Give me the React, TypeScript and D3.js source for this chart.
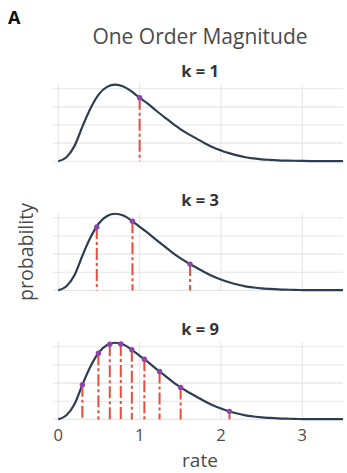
import { useRef, useEffect } from "react";
import * as d3 from "d3";

// density curve
const curveX = [0, 0.1, 0.2, 0.3, 0.4, 0.5, 0.6, 0.7, 0.8, 0.9, 1.0, 1.1, 1.2, 1.3, 1.4, 1.5, 1.6, 1.7, 1.8, 1.9, 2.0, 2.1, 2.2, 2.3, 2.4, 2.5, 2.6, 2.7, 2.8, 2.9, 3.0, 3.1, 3.2, 3.3, 3.4, 3.5];
const curveY = [0, 0.045, 0.17, 0.39, 0.59, 0.74, 0.82, 0.845, 0.825, 0.77, 0.70, 0.635, 0.56, 0.49, 0.42, 0.355, 0.30, 0.25, 0.20, 0.155, 0.12, 0.09, 0.065, 0.045, 0.032, 0.022, 0.016, 0.011, 0.008, 0.006, 0.004, 0.003, 0.003, 0.002, 0.002, 0.002];

// discretisation points per panel
const panelK = [1, 3, 9];
const pointsK1 = [1.0];
const pointsK3 = [0.473, 0.912, 1.62];
const pointsK9 = [0.296, 0.493, 0.633, 0.768, 0.904, 1.058, 1.245, 1.504, 2.104];
const panelPoints = [pointsK1, pointsK3, pointsK9];

const xTicks = [0, 1, 2, 3];
const yTicks = [0, 0.2, 0.4, 0.6, 0.8];

const FONT = "'Open Sans', 'Noto Sans', sans-serif";
const W = 347;
const H = 473;

export default function App() {
  const svgRef = useRef<SVGSVGElement>(null);

  useEffect(() => {
    if (!svgRef.current) return;
    const svg = d3.select(svgRef.current);
    svg.selectAll("*").remove();

    const left = 53;
    const right = 343;
    const x = d3.scaleLinear().domain([-0.065, 3.5]).range([left, right]);
    const lookup = d3.scaleLinear().domain(curveX).range(curveY);

    const panelBottoms = [161.3, 290.4, 419.4];
    const panelH = 77.3;

    // panel label + title
    svg.append("text")
      .attr("x", 8).attr("y", 23.5)
      .attr("font-family", FONT).attr("font-weight", 700).attr("font-size", 18)
      .attr("fill", "#111")
      .text("A");

    svg.append("text")
      .attr("x", 200).attr("y", 44)
      .attr("text-anchor", "middle")
      .attr("font-family", FONT).attr("font-size", 21)
      .attr("fill", "#4a4a4a")
      .text("One Order Magnitude");

    panelK.forEach((k, i) => {
      const bottom = panelBottoms[i];
      const y = d3.scaleLinear().domain([0, 0.852]).range([bottom, bottom - panelH]);
      const g = svg.append("g");

      // strip title
      g.append("text")
        .attr("x", 200).attr("y", bottom - panelH - 7)
        .attr("text-anchor", "middle")
        .attr("font-family", FONT).attr("font-weight", 700).attr("font-size", 16.5)
        .attr("fill", "#333")
        .text(`k = ${k}`);

      // grid
      g.selectAll("line.h")
        .data(yTicks)
        .join("line")
        .attr("class", "h")
        .attr("x1", left).attr("x2", right)
        .attr("y1", (d) => y(d)).attr("y2", (d) => y(d))
        .attr("stroke", "#e6e6e6").attr("stroke-width", 1.1);

      g.selectAll("line.v")
        .data(xTicks)
        .join("line")
        .attr("class", "v")
        .attr("x1", (d) => x(d)).attr("x2", (d) => x(d))
        .attr("y1", bottom - panelH).attr("y2", bottom)
        .attr("stroke", "#e6e6e6").attr("stroke-width", 1.1);

      // density line
      const line = d3.line<number>()
        .x((d) => x(d))
        .y((_, j) => y(curveY[j]))
        .curve(d3.curveMonotoneX);

      g.append("path")
        .datum(curveX)
        .attr("d", line)
        .attr("fill", "none")
        .attr("stroke", "#2c3e50")
        .attr("stroke-width", 2.2);

      const pts = panelPoints[i];

      g.selectAll("line.drop")
        .data(pts)
        .join("line")
        .attr("class", "drop")
        .attr("x1", (d) => x(d)).attr("x2", (d) => x(d))
        .attr("y1", (d) => y(lookup(d))).attr("y2", bottom)
        .attr("stroke", "#e74c3c")
        .attr("stroke-width", 2)
        .attr("stroke-dasharray", "12,3,3,3");

      g.selectAll("circle")
        .data(pts)
        .join("circle")
        .attr("cx", (d) => x(d))
        .attr("cy", (d) => y(lookup(d)))
        .attr("r", 2.7)
        .attr("fill", "#8e44ad");
    });

    // x tick labels
    svg.selectAll("text.tick")
      .data(xTicks)
      .join("text")
      .attr("class", "tick")
      .attr("x", (d) => x(d)).attr("y", 441)
      .attr("text-anchor", "middle")
      .attr("font-family", FONT).attr("font-size", 16.5)
      .attr("fill", "#4d4d4d")
      .text((d) => String(d));

    svg.append("text")
      .attr("x", 200).attr("y", 467)
      .attr("text-anchor", "middle")
      .attr("font-family", FONT).attr("font-size", 19)
      .attr("fill", "#4a4a4a")
      .text("rate");

    svg.append("text")
      .attr("transform", "translate(33,252) rotate(-90)")
      .attr("text-anchor", "middle")
      .attr("font-family", FONT).attr("font-size", 19.5)
      .attr("fill", "#4a4a4a")
      .text("probability");
  }, []);

  return (
    <svg
      ref={svgRef}
      width={W}
      height={H}
      style={{ position: "absolute", left: 0, top: 0, background: "#fff" }}
    />
  );
}
